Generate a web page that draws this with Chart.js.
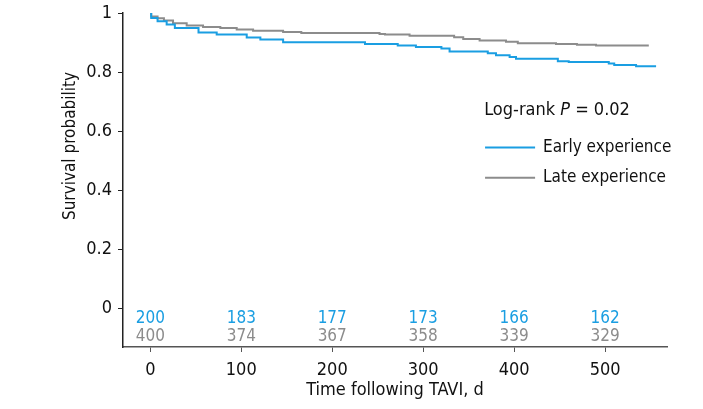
<!DOCTYPE html>
<html>
<head>
<meta charset="utf-8">
<script src="https://cdn.jsdelivr.net/npm/chart.js@4"></script>
<style>
  html, body { margin: 0; padding: 0; background: #fff; }
  #wrap { width: 703px; height: 409px; }
</style>
</head>
<body>
<div id="wrap"><canvas id="km"></canvas></div>
<script>
// Kaplan-Meier curves (time in days, survival probability)
const earlyTime = [0, 1, 8, 18, 27, 53, 73, 106, 121, 146, 236, 272, 292, 320, 329, 371, 380, 395, 402, 448, 460, 504, 510, 534, 556];
const earlySurv = [1.0, 0.983, 0.972, 0.961, 0.949, 0.934, 0.927, 0.917, 0.910, 0.901, 0.895, 0.890, 0.885, 0.880, 0.870, 0.864, 0.857, 0.851, 0.845, 0.837, 0.834, 0.829, 0.824, 0.820, 0.820];

const lateTime = [0, 1, 8, 15, 25, 40, 58, 77, 95, 113, 146, 166, 252, 258, 285, 334, 344, 362, 391, 404, 446, 469, 490, 548];
const lateSurv = [1.0, 0.988, 0.982, 0.975, 0.965, 0.958, 0.953, 0.949, 0.944, 0.940, 0.936, 0.932, 0.929, 0.927, 0.923, 0.918, 0.912, 0.907, 0.903, 0.898, 0.895, 0.893, 0.890, 0.890];

const seriesLabels = ['Early experience', 'Late experience'];

// numbers at risk
const riskTimes = [0, 100, 200, 300, 400, 500];
const riskEarly = [200, 183, 177, 173, 166, 162];
const riskLate = [400, 374, 367, 358, 339, 329];

const xTicks = [0, 100, 200, 300, 400, 500];
const yTicks = [0, 0.2, 0.4, 0.6, 0.8, 1];
const yTickLabels = ['0', '0.2', '0.4', '0.6', '0.8', '1'];

const pText = 'Log-rank P = 0.02';
const yTitle = 'Survival probability';

const BLUE = '#1a9ee2';
const GRAY = '#8c8c8c';
const FONT = '"Liberation Sans Narrow", "DejaVu Sans Condensed", "Liberation Sans", sans-serif';

const toPoints = (ts, ss) => ts.map((t, i) => ({ x: t, y: ss[i] }));

// numbers at risk, p-value, legend and y title drawn on top
const extras = {
    id: 'extras',
    afterDraw(chart) {
        const { ctx, scales: { x, y } } = chart;
        ctx.save();
        ctx.font = '17px ' + FONT;
        ctx.textAlign = 'center';
        ctx.textBaseline = 'middle';
        riskTimes.forEach((t, i) => {
            const px = x.getPixelForValue(t);
            ctx.fillStyle = BLUE;
            ctx.fillText(String(riskEarly[i]), px, y.getPixelForValue(-0.035));
            ctx.fillStyle = GRAY;
            ctx.fillText(String(riskLate[i]), px, y.getPixelForValue(-0.094));
        });

        // y axis title, a bit above the middle of the axis
        ctx.save();
        ctx.translate(x.left - 52, y.getPixelForValue(0.55));
        ctx.rotate(-Math.PI / 2);
        ctx.fillStyle = '#111';
        ctx.font = '17px ' + FONT;
        ctx.fillText(yTitle, 0, 0);
        ctx.restore();

        // log-rank text with italic P
        ctx.textAlign = 'left';
        ctx.fillStyle = '#111';
        const parts = pText.split('P');
        let tx = x.getPixelForValue(367), ty = y.getPixelForValue(0.672);
        ctx.font = '18px ' + FONT;
        ctx.fillText(parts[0], tx, ty);
        tx += ctx.measureText(parts[0]).width;
        ctx.font = 'italic 18px ' + FONT;
        ctx.fillText('P', tx, ty);
        tx += ctx.measureText('P').width;
        ctx.font = '18px ' + FONT;
        ctx.fillText(parts[1], tx, ty);

        // legend
        const colors = [BLUE, GRAY];
        const lx0 = x.getPixelForValue(368), lx1 = x.getPixelForValue(423);
        ctx.font = '17px ' + FONT;
        seriesLabels.forEach((lab, i) => {
            const ly = y.getPixelForValue(i === 0 ? 0.545 : 0.443);
            ctx.strokeStyle = colors[i];
            ctx.lineWidth = 2;
            ctx.beginPath();
            ctx.moveTo(lx0, ly);
            ctx.lineTo(lx1, ly);
            ctx.stroke();
            ctx.fillStyle = '#111';
            ctx.fillText(lab, lx1 + 8, ly);
        });
        ctx.restore();
    }
};

new Chart(document.getElementById('km'), {
    type: 'line',
    data: {
        datasets: [
            {
                label: seriesLabels[0],
                data: toPoints(earlyTime, earlySurv),
                borderColor: BLUE,
                borderWidth: 2,
                stepped: true,
                pointRadius: 0,
                fill: false
            },
            {
                label: seriesLabels[1],
                data: toPoints(lateTime, lateSurv),
                borderColor: GRAY,
                borderWidth: 2,
                stepped: true,
                pointRadius: 0,
                fill: false
            }
        ]
    },
    options: {
        responsive: true,
        maintainAspectRatio: false,
        animation: false,
        layout: { padding: { left: 0, top: 13, right: 36, bottom: 0 } },
        plugins: {
            legend: { display: false },
            tooltip: { enabled: false }
        },
        scales: {
            x: {
                type: 'linear',
                min: -30,
                max: 568,
                afterBuildTicks: (s) => { s.ticks = xTicks.map(v => ({ value: v })); },
                afterFit: (s) => { s.height = 62; s.paddingLeft = 0; s.paddingRight = 0; },
                grid: { drawOnChartArea: false, tickLength: 5, color: '#555' },
                border: { color: '#555', width: 1.5 },
                ticks: { color: '#111', font: { family: FONT, size: 18 }, padding: 8 },
                title: {
                    display: true,
                    text: 'Time following TAVI, d',
                    color: '#111',
                    font: { family: FONT, size: 18 },
                    padding: { bottom: 8 }
                }
            },
            y: {
                type: 'linear',
                min: -0.13,
                max: 1,
                afterBuildTicks: (s) => { s.ticks = yTicks.map(v => ({ value: v })); },
                afterFit: (s) => { s.width = 123; s.paddingTop = 0; s.paddingBottom = 0; },
                grid: { drawOnChartArea: false, tickLength: 5, color: '#222' },
                border: { color: '#222', width: 1.5 },
                ticks: {
                    color: '#111',
                    font: { family: FONT, size: 18 },
                    padding: 6,
                    callback: (v) => yTickLabels[yTicks.indexOf(v)]
                }
            }
        }
    },
    plugins: [extras]
});
</script>
</body>
</html>
